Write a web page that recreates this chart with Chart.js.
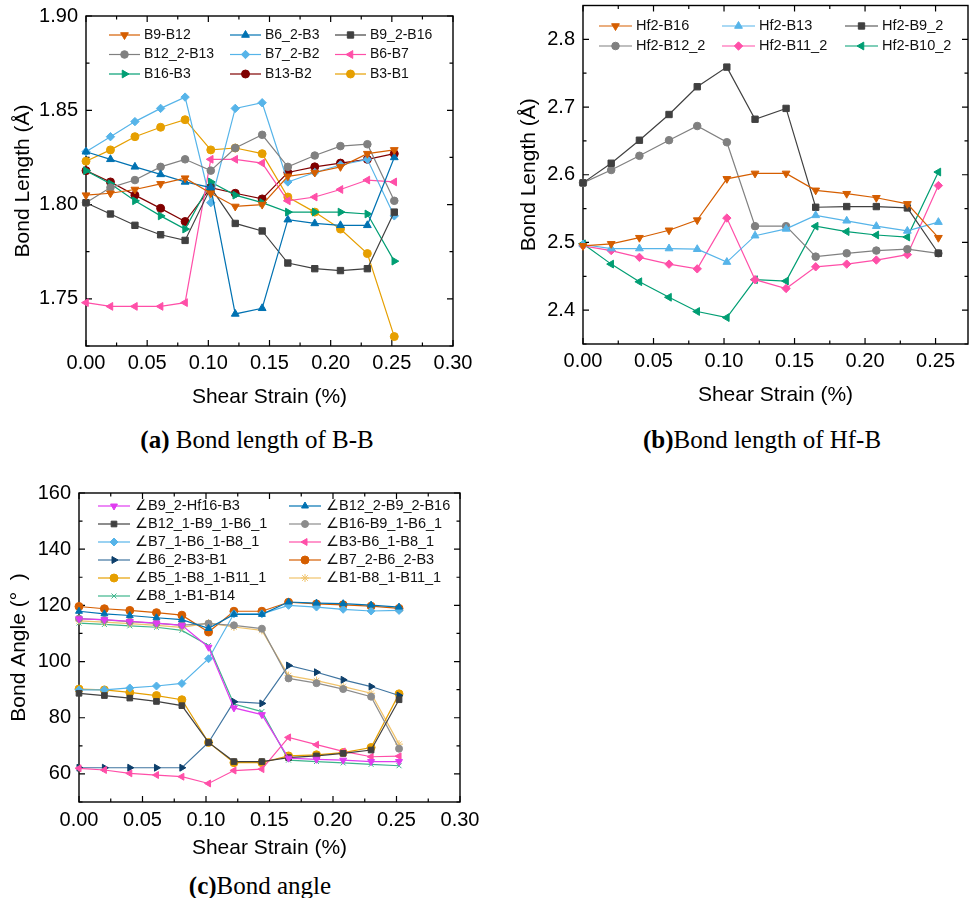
<!DOCTYPE html>
<html>
<head>
<meta charset="utf-8">
<script src="https://cdn.jsdelivr.net/npm/chart.js@4.4.1/dist/chart.umd.min.js"></script>
<style>
  body { margin: 0; background: #fff; width: 974px; height: 898px; position: relative; overflow: hidden; }
  canvas { position: absolute; }
  .cap { position: absolute; font-family: "Liberation Serif", "Times New Roman", serif; font-size: 25px; line-height: 30px; text-align: center; color: #000; white-space: nowrap; }
</style>
</head>
<body>
<canvas id="chartA" width="480" height="420" style="left:0;top:0"></canvas>
<canvas id="chartB" width="484" height="420" style="left:490px;top:0"></canvas>
<canvas id="chartC" width="490" height="400" style="left:0;top:470px"></canvas>
<div class="cap" style="left:0;top:425px;width:514px"><b>(a)</b> Bond length of B-B</div>
<div class="cap" style="left:520px;top:425px;width:484px"><b>(b)</b>Bond length of Hf-B</div>
<div class="cap" style="left:0;top:871px;width:520px"><b>(c)</b>Bond angle</div>
<script>
// shear strain (x values shared by all panels)
const strain = [0, 0.020, 0.040, 0.061, 0.081, 0.102, 0.122, 0.144, 0.165, 0.187, 0.208, 0.230, 0.252];

// tick labels
const ticksX  = [0, 0.05, 0.10, 0.15, 0.20, 0.25, 0.30];
const ticksXb = [0, 0.05, 0.10, 0.15, 0.20, 0.25];
const ticksYa = [1.75, 1.80, 1.85, 1.90];
const ticksYb = [2.4, 2.5, 2.6, 2.7, 2.8];
const ticksYc = [60, 80, 100, 120, 140, 160];

// (a) B-B bond lengths
const b9_b12    = [1.805, 1.806, 1.808, 1.811, 1.814, 1.806, 1.799, 1.800, 1.815, 1.817, 1.820, 1.827, 1.829];
const b6_2_b3   = [1.828, 1.824, 1.820, 1.816, 1.812, 1.809, 1.742, 1.745, 1.792, 1.790, 1.789, 1.789, 1.825];
const b9_2_b16  = [1.801, 1.795, 1.789, 1.784, 1.781, 1.809, 1.790, 1.786, 1.769, 1.766, 1.765, 1.766, 1.796];
const b12_2_b13 = [1.801, 1.809, 1.813, 1.820, 1.824, 1.818, 1.830, 1.837, 1.820, 1.826, 1.831, 1.832, 1.802];
const b7_2_b2   = [1.828, 1.836, 1.844, 1.851, 1.857, 1.801, 1.851, 1.854, 1.812, 1.817, 1.821, 1.824, 1.794];
const b6_b7     = [1.748, 1.746, 1.746, 1.746, 1.748, 1.824, 1.824, 1.822, 1.802, 1.804, 1.808, 1.813, 1.812];
const b16_b3    = [1.818, 1.811, 1.802, 1.794, 1.787, 1.812, 1.805, 1.801, 1.796, 1.796, 1.796, 1.795, 1.770];
const b13_b2    = [1.818, 1.812, 1.805, 1.798, 1.791, 1.809, 1.806, 1.803, 1.817, 1.820, 1.822, 1.824, 1.827];
const b3_b1     = [1.823, 1.829, 1.836, 1.841, 1.845, 1.829, 1.830, 1.827, 1.804, 1.796, 1.787, 1.774, 1.730];

// (b) Hf-B bond lengths
const hf2_b16   = [2.495, 2.498, 2.507, 2.518, 2.533, 2.594, 2.602, 2.602, 2.577, 2.572, 2.566, 2.557, 2.507];
const hf2_b13   = [2.497, 2.491, 2.491, 2.491, 2.490, 2.471, 2.510, 2.520, 2.540, 2.532, 2.524, 2.517, 2.530];
const hf2_b9_2  = [2.588, 2.617, 2.651, 2.689, 2.730, 2.759, 2.682, 2.698, 2.552, 2.553, 2.553, 2.551, 2.484];
const hf2_b12_2 = [2.588, 2.607, 2.628, 2.651, 2.672, 2.648, 2.524, 2.524, 2.479, 2.484, 2.488, 2.490, 2.484];
const hf2_b11_2 = [2.495, 2.488, 2.478, 2.468, 2.461, 2.536, 2.445, 2.432, 2.464, 2.468, 2.474, 2.482, 2.584];
const hf2_b10_2 = [2.498, 2.468, 2.442, 2.419, 2.398, 2.389, 2.445, 2.443, 2.524, 2.516, 2.511, 2.508, 2.604];

// (c) bond angles
const ang_b9_2_hf16_b3    = [115.2, 114.9, 114.3, 113.7, 112.9, 105.1, 83.5, 81.1, 65.6, 65.2, 64.9, 64.4, 64.4];
const ang_b12_2_b9_2_b16  = [117.9, 117.0, 116.4, 115.6, 114.9, 111.8, 116.8, 116.8, 121.2, 120.8, 120.6, 120.1, 119.4];
const ang_b12_1_b9_1_b6_1 = [88.7, 87.9, 87.0, 85.8, 84.3, 71.2, 64.4, 64.4, 65.8, 66.4, 67.3, 68.5, 86.4];
const ang_b16_b9_1_b6_1   = [115.3, 114.8, 114.2, 113.6, 113.0, 113.5, 112.9, 111.7, 94.0, 92.3, 90.2, 87.5, 69.0];
const ang_b7_1_b6_1_b8_1  = [89.9, 89.9, 90.6, 91.3, 92.2, 101.0, 117.0, 117.0, 120.0, 119.4, 118.6, 118.0, 118.2];
const ang_b3_b6_1_b8_1    = [62.0, 61.4, 60.2, 59.6, 59.0, 56.6, 61.2, 61.7, 73.0, 70.4, 68.0, 66.1, 66.3];
const ang_b6_2_b3_b1      = [62.2, 62.2, 62.2, 62.2, 62.2, 71.2, 85.7, 85.1, 98.6, 96.2, 93.5, 91.1, 87.9];
const ang_b7_2_b6_2_b3    = [119.6, 118.8, 118.2, 117.4, 116.5, 110.5, 117.9, 117.9, 121.1, 120.5, 120.2, 119.7, 118.9];
const ang_b5_1_b8_1_b11_1 = [90.2, 89.9, 89.0, 87.9, 86.4, 71.2, 64.0, 64.0, 66.4, 66.8, 67.6, 69.4, 88.5];
const ang_b1_b8_1_b11_1   = [114.5, 114.0, 113.5, 112.9, 112.2, 113.7, 112.3, 111.1, 95.0, 93.2, 91.1, 88.7, 70.6];
const ang_b8_1_b1_b14     = [113.7, 113.2, 112.7, 112.2, 111.1, 105.7, 84.9, 82.2, 64.9, 64.4, 63.9, 63.4, 62.9];

Chart.defaults.font.family = '"Liberation Sans", Arial, "DejaVu Sans", sans-serif';
Chart.defaults.color = '#000';

function line(label, values, color, style, rot, r, lineColor) {
    return {
        label: label,
        data: strain.map((s, i) => ({ x: s, y: values[i] })),
        borderColor: lineColor || color,
        backgroundColor: color,
        pointBackgroundColor: color,
        pointBorderColor: color,
        pointStyle: style,
        pointRotation: rot,
        pointRadius: r,
        pointBorderWidth: 1,
        borderWidth: 1.2,
        tension: 0,
        clip: false
    };
}

function eachTick(min, max, minor, major, fn) {
    const n0 = Math.ceil(min / minor - 1e-6);
    const n1 = Math.floor(max / minor + 1e-6);
    const ratio = Math.round(major / minor);
    for (let n = n0; n <= n1; n++) fn(n * minor, n % ratio === 0);
}

// box around the plot with inward ticks on all four sides
const frameTicks = {
    id: 'frameTicks',
    beforeDatasetsDraw(chart, args, o) {
        const ctx = chart.ctx, a = chart.chartArea;
        const xs = chart.scales.x, ys = chart.scales.y;
        ctx.save();
        ctx.strokeStyle = '#000';
        ctx.lineWidth = 1.4;
        ctx.strokeRect(a.left, a.top, a.right - a.left, a.bottom - a.top);
        ctx.lineWidth = 1.2;
        ctx.beginPath();
        eachTick(xs.min, xs.max, o.xMinor, o.xMajor, (v, major) => {
            const p = xs.getPixelForValue(v), len = major ? 6 : 3.5;
            ctx.moveTo(p, a.bottom); ctx.lineTo(p, a.bottom - len);
            ctx.moveTo(p, a.top); ctx.lineTo(p, a.top + len);
        });
        eachTick(ys.min, ys.max, o.yMinor, o.yMajor, (v, major) => {
            const p = ys.getPixelForValue(v), len = major ? 6 : 3.5;
            ctx.moveTo(a.left, p); ctx.lineTo(a.left + len, p);
            ctx.moveTo(a.right, p); ctx.lineTo(a.right - len, p);
        });
        ctx.stroke();
        ctx.restore();
    }
};

// legend drawn inside the plot, in fixed columns
const insetLegend = {
    id: 'insetLegend',
    afterDatasetsDraw(chart, args, o) {
        const ctx = chart.ctx;
        ctx.save();
        ctx.font = o.size + 'px "Liberation Sans", Arial, "DejaVu Sans", sans-serif';
        ctx.textBaseline = 'middle';
        chart.data.datasets.forEach((ds, i) => {
            const col = i % o.cols.length, row = Math.floor(i / o.cols.length);
            const x0 = o.cols[col], y0 = o.top + row * o.rowGap;
            ctx.strokeStyle = ds.borderColor;
            ctx.lineWidth = ds.borderWidth;
            ctx.beginPath();
            ctx.moveTo(x0, y0);
            ctx.lineTo(x0 + o.lineLen, y0);
            ctx.stroke();
            ctx.fillStyle = ds.pointBackgroundColor;
            ctx.strokeStyle = ds.pointBorderColor;
            ctx.lineWidth = 1;
            Chart.helpers.drawPoint(ctx, {
                pointStyle: ds.pointStyle, rotation: ds.pointRotation || 0,
                radius: ds.pointRadius, borderWidth: 1
            }, x0 + o.lineLen / 2, y0);
            ctx.fillStyle = '#111';
            ctx.fillText(ds.label, x0 + o.lineLen + o.gap, y0);
        });
        ctx.restore();
    }
};

function axes(o) {
    return {
        x: {
            type: 'linear', min: o.xMin, max: o.xMax,
            grid: { display: false, drawTicks: false },
            border: { display: false },
            ticks: { padding: o.xPad, maxRotation: 0, autoSkip: false,
                     font: { size: 20 }, callback: v => v.toFixed(2) },
            afterBuildTicks: s => { s.ticks = o.xTicks.map(v => ({ value: v })); },
            title: { display: true, text: 'Shear Strain (%)', font: { size: 21 }, padding: { top: 0, bottom: o.xTitlePad } },
            afterFit: s => { s.height = o.xHeight; s.paddingLeft = 0; s.paddingRight = 0; }
        },
        y: {
            type: 'linear', min: o.yMin, max: o.yMax,
            grid: { display: false, drawTicks: false },
            border: { display: false },
            ticks: { padding: 8, autoSkip: false, font: { size: 20 }, callback: o.yFmt },
            afterBuildTicks: s => { s.ticks = o.yTicks.map(v => ({ value: v })); },
            title: { display: true, text: o.yTitle, font: { size: 21 }, padding: { top: o.yTitlePad, bottom: 0 } },
            afterFit: s => { s.width = o.yWidth; s.paddingTop = 0; s.paddingBottom = 0; }
        }
    };
}

function baseOptions(pad, scales, frame, legend) {
    return {
        responsive: false,
        animation: false,
        devicePixelRatio: 1,
        layout: { padding: pad },
        scales: scales,
        plugins: {
            legend: { display: false },
            tooltip: { enabled: false },
            frameTicks: frame,
            insetLegend: legend
        }
    };
}

const plugins = [frameTicks, insetLegend];

// (a)
new Chart(document.getElementById('chartA'), {
    type: 'line',
    data: {
        datasets: [
            line('B9-B12', b9_b12, '#D55E00', 'triangle', 180, 4.5),
            line('B6_2-B3', b6_2_b3, '#0072B2', 'triangle', 0, 4.5),
            line('B9_2-B16', b9_2_b16, '#404040', 'rect', 0, 4.5),
            line('B12_2-B13', b12_2_b13, '#808080', 'circle', 0, 3.8),
            line('B7_2-B2', b7_2_b2, '#56B4E9', 'rectRot', 0, 4.2),
            line('B6-B7', b6_b7, '#FF4FA8', 'triangle', 270, 4.5),
            line('B16-B3', b16_b3, '#009E73', 'triangle', 90, 4.5),
            line('B13-B2', b13_b2, '#800000', 'circle', 0, 4),
            line('B3-B1', b3_b1, '#E69F00', 'circle', 0, 4)
        ]
    },
    options: baseOptions({ left: 0, top: 16, right: 27, bottom: 0 },
        axes({ xMin: 0, xMax: 0.30, xTicks: ticksX, xPad: 5, xTitlePad: 10, xHeight: 74,
               yMin: 1.725, yMax: 1.90, yTicks: ticksYa, yFmt: v => v.toFixed(2),
               yTitle: 'Bond Length (\u00C5)', yTitlePad: 11, yWidth: 86 }),
        { xMinor: 0.025, xMajor: 0.05, yMinor: 0.025, yMajor: 0.05 },
        { cols: [109, 230, 335], top: 35, rowGap: 19.5, lineLen: 31, gap: 4, size: 14 }),
    plugins: plugins
});

// (b)
new Chart(document.getElementById('chartB'), {
    type: 'line',
    data: {
        datasets: [
            line('Hf2-B16', hf2_b16, '#D55E00', 'triangle', 180, 4.5),
            line('Hf2-B13', hf2_b13, '#56B4E9', 'triangle', 0, 4.5),
            line('Hf2-B9_2', hf2_b9_2, '#404040', 'rect', 0, 4.5),
            line('Hf2-B12_2', hf2_b12_2, '#808080', 'circle', 0, 3.8),
            line('Hf2-B11_2', hf2_b11_2, '#FF4FA8', 'rectRot', 0, 4.2),
            line('Hf2-B10_2', hf2_b10_2, '#009E73', 'triangle', 270, 4.5)
        ]
    },
    options: baseOptions({ left: 0, top: 3, right: 6, bottom: 0 },
        axes({ xMin: 0, xMax: 0.273, xTicks: ticksXb, xPad: 5, xTitlePad: 12, xHeight: 76,
               yMin: 2.35, yMax: 2.85, yTicks: ticksYb, yFmt: v => v.toFixed(1),
               yTitle: 'Bond Length (\u00C5)', yTitlePad: 27, yWidth: 93 }),
        { xMinor: 0.025, xMajor: 0.05, yMinor: 0.05, yMajor: 0.1 },
        { cols: [109, 232, 355], top: 26, rowGap: 20, lineLen: 33, gap: 4, size: 14.5 }),
    plugins: plugins
});

// (c)
new Chart(document.getElementById('chartC'), {
    type: 'line',
    data: {
        datasets: [
            line('\u2220B9_2-Hf16-B3', ang_b9_2_hf16_b3, '#E03CF0', 'triangle', 180, 4),
            line('\u2220B12_2-B9_2-B16', ang_b12_2_b9_2_b16, '#0072B2', 'triangle', 0, 4),
            line('\u2220B12_1-B9_1-B6_1', ang_b12_1_b9_1_b6_1, '#404040', 'rect', 0, 4),
            line('\u2220B16-B9_1-B6_1', ang_b16_b9_1_b6_1, '#8C8C8C', 'circle', 0, 3.5),
            line('\u2220B7_1-B6_1-B8_1', ang_b7_1_b6_1_b8_1, '#56B4E9', 'rectRot', 0, 4),
            line('\u2220B3-B6_1-B8_1', ang_b3_b6_1_b8_1, '#FF4FA8', 'triangle', 270, 4),
            line('\u2220B6_2-B3-B1', ang_b6_2_b3_b1, '#0D3F6B', 'triangle', 90, 4, '#3F74A0'),
            line('\u2220B7_2-B6_2-B3', ang_b7_2_b6_2_b3, '#D55E00', 'circle', 0, 4),
            line('\u2220B5_1-B8_1-B11_1', ang_b5_1_b8_1_b11_1, '#E69F00', 'circle', 0, 4),
            line('\u2220B1-B8_1-B11_1', ang_b1_b8_1_b11_1, '#F0C36B', 'star', 0, 4),
            line('\u2220B8_1-B1-B14', ang_b8_1_b1_b14, '#3DB58C', 'crossRot', 0, 3.5)
        ]
    },
    options: baseOptions({ left: 0, top: 23, right: 30, bottom: 0 },
        axes({ xMin: 0, xMax: 0.30, xTicks: ticksX, xPad: 6, xTitlePad: 9, xHeight: 68,
               yMin: 50, yMax: 160, yTicks: ticksYc, yFmt: v => v,
               yTitle: 'Bond Angle (\u00B0  )', yTitlePad: 7, yWidth: 79 }),
        { xMinor: 0.025, xMajor: 0.05, yMinor: 10, yMajor: 20 },
        { cols: [98, 289], top: 36, rowGap: 18, lineLen: 32, gap: 5, size: 14.5 }),
    plugins: plugins
});
</script>
</body>
</html>
